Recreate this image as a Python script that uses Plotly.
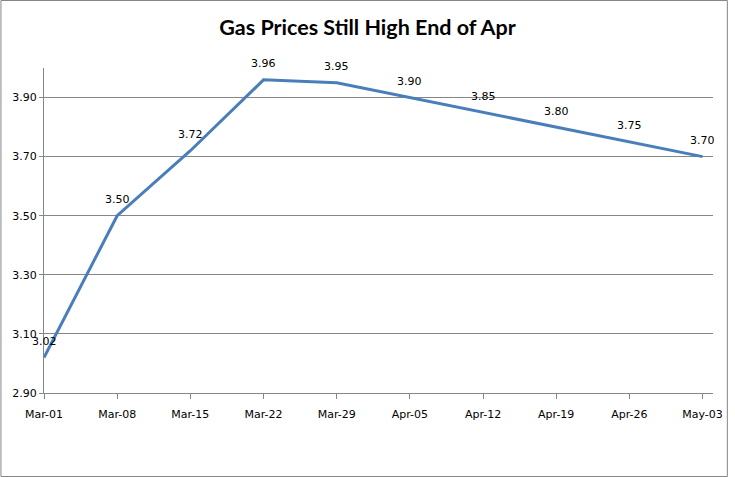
import plotly.graph_objects as go

dates = ["2012-03-01", "2012-03-08", "2012-03-15", "2012-03-22", "2012-03-29",
         "2012-04-05", "2012-04-12", "2012-04-19", "2012-04-26", "2012-05-03"]
prices = [3.02, 3.50, 3.72, 3.96, 3.95, 3.90, 3.85, 3.80, 3.75, 3.70]
labels = [f"{v:.2f}" for v in prices]
y_ticks = [2.90, 3.10, 3.30, 3.50, 3.70, 3.90]
y_tick_text = [f"{v:.2f}" for v in y_ticks]

W, H = 735, 477
L, R, T, B = 44, 15, 68, 84
pw, ph = W - L - R, H - T - B

fig = go.Figure()
fig.add_trace(go.Scatter(
    x=dates, y=prices, mode="lines",
    line=dict(color="#4A7EBB", width=3),
    cliponaxis=False, hoverinfo="x+y", showlegend=False,
))

for d, v, t in zip(dates, prices, labels):
    fig.add_annotation(x=d, y=v, text=t, showarrow=False, yshift=16,
                       xanchor="center", yanchor="middle",
                       font=dict(family="DejaVu Sans", size=11, color="black"))

gray = "#868686"
fig.update_layout(
    width=W, height=H,
    margin=dict(l=L, r=R, t=T, b=B),
    paper_bgcolor="white", plot_bgcolor="white",
    title=dict(text="<b>Gas Prices Still High End of Apr</b>",
               font=dict(family="Lato", size=21.5, color="black"),
               x=0.5, xanchor="center", y=1 - 27 / H, yanchor="middle"),
    xaxis=dict(type="date", range=["2012-03-01", "2012-05-04"],
               tickvals=dates, tickformat="%b-%d",
               showgrid=False, showline=True, linecolor=gray, linewidth=1,
               ticks="outside", ticklen=5, tickcolor=gray,
               ticklabelstandoff=6,
               tickfont=dict(family="DejaVu Sans", size=11, color="black"),
               zeroline=False, fixedrange=True),
    yaxis=dict(range=[2.90, 4.00], tickvals=y_ticks, ticktext=y_tick_text,
               showgrid=True, gridcolor=gray, gridwidth=1,
               showline=True, linecolor=gray, linewidth=1,
               ticks="outside", ticklen=4, tickcolor=gray,
               tickfont=dict(family="DejaVu Sans", size=11, color="black"),
               zeroline=False, fixedrange=True),
    shapes=[dict(type="rect", xref="paper", yref="paper",
                 x0=(0.5 - L) / pw, x1=(W - 0.5 - L) / pw,
                 y0=(H - B - (H - 0.5)) / ph, y1=(H - B - 0.5) / ph,
                 line=dict(color=gray, width=1), fillcolor="rgba(0,0,0,0)")],
)

page_js = (
    "document.documentElement.style.overflow='hidden';"
    "document.body.style.overflow='hidden';"
    "document.body.style.margin='0';document.body.style.padding='0';"
)
fig.write_html("out.html", post_script=page_js,
               config={"displayModeBar": False})
